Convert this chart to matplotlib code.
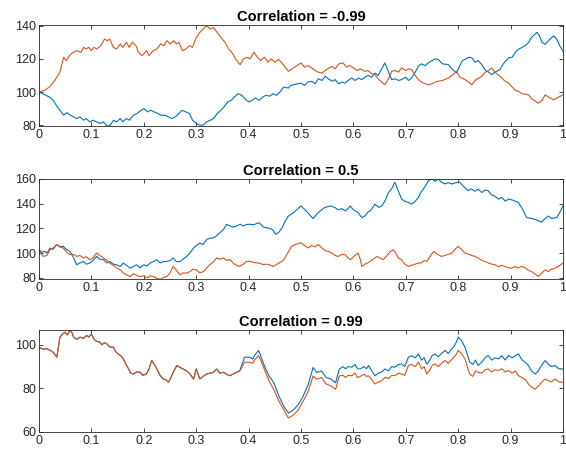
"""Three panels of correlated price paths, MATLAB-style."""

import matplotlib
matplotlib.use("Agg")
import matplotlib.pyplot as plt

BLUE = "#0072BD"
ORANGE = "#D95319"

# ---- panel 1: correlation -0.99 ----
x1_blue = [0, 0.007, 0.013, 0.02, 0.027, 0.033, 0.04, 0.047, 0.053, 0.06, 0.066,
           0.072, 0.078, 0.085, 0.09, 0.097, 0.103, 0.11, 0.117, 0.123, 0.13,
           0.136, 0.142, 0.148, 0.155, 0.16, 0.167, 0.173, 0.18, 0.187, 0.193,
           0.2, 0.207, 0.213, 0.22, 0.227, 0.233, 0.24, 0.247, 0.253, 0.26,
           0.267, 0.273, 0.28, 0.287, 0.293, 0.3, 0.307, 0.313, 0.32, 0.327,
           0.333, 0.34, 0.347, 0.353, 0.36, 0.367, 0.373, 0.38, 0.387, 0.393,
           0.4, 0.407, 0.413, 0.42, 0.427, 0.433, 0.44, 0.447, 0.453, 0.46,
           0.467, 0.476, 0.48, 0.5, 0.507, 0.513, 0.52, 0.527, 0.533, 0.54,
           0.546, 0.552, 0.56, 0.565, 0.572, 0.578, 0.584, 0.59, 0.597, 0.603,
           0.61, 0.616, 0.622, 0.628, 0.635, 0.641, 0.647, 0.654, 0.66, 0.667,
           0.673, 0.68, 0.686, 0.692, 0.7, 0.705, 0.711, 0.718, 0.724, 0.73,
           0.737, 0.743, 0.75, 0.756, 0.762, 0.77, 0.781, 0.788, 0.797, 0.803,
           0.808, 0.813, 0.82, 0.826, 0.832, 0.838, 0.845, 0.852, 0.858, 0.864,
           0.87, 0.88, 0.886, 0.896, 0.903, 0.909, 0.915, 0.922, 0.928, 0.934,
           0.94, 0.95, 0.955, 0.96, 0.966, 0.972, 0.982, 0.988, 0.994, 1.0]
y1_blue = [100, 99, 98, 97, 95, 92, 89, 86, 87.5, 86, 85,
           84, 85, 83, 84, 82, 83, 82, 81, 82, 79.5,
           80, 83, 82, 84, 82, 84, 83, 86, 87, 88.5,
           90, 88, 89, 88, 87, 86, 86, 85, 84, 85,
           87, 89, 88, 87, 83, 81, 80, 80, 82, 83,
           84, 87, 89, 91, 94, 95, 97, 99, 98, 96,
           94, 95, 96.5, 95, 97, 98, 97.5, 99, 98, 100,
           103, 102.4, 104, 105.4, 104, 106, 106.5, 105, 108, 107,
           109.5, 108, 106.5, 107.5, 105, 106, 105.4, 107, 108.5, 107,
           108.5, 107.5, 109, 110, 109, 111.5, 110, 114, 117.6, 112,
           107.5, 108, 107, 107.5, 109, 107, 108.5, 112, 115.6, 117,
           116, 117.6, 119, 120, 119.7, 117, 116.6, 114, 111.5, 116,
           119, 119.7, 121, 120.7, 118, 119, 116.6, 113, 112, 110.5,
           112, 113.6, 117, 120.7, 121, 124, 125.8, 127, 128, 129.8,
           133, 136, 134, 130, 128.8, 131, 133.9, 132, 127.8, 124.8]
x1_orange = [0, 0.01, 0.02, 0.03, 0.04, 0.047, 0.052, 0.058, 0.065, 0.072, 0.08,
             0.085, 0.09, 0.095, 0.1, 0.105, 0.11, 0.118, 0.125, 0.13, 0.135,
             0.142, 0.148, 0.155, 0.16, 0.167, 0.172, 0.178, 0.185, 0.19, 0.196,
             0.2, 0.205, 0.21, 0.218, 0.225, 0.232, 0.238, 0.244, 0.25, 0.257,
             0.262, 0.267, 0.274, 0.28, 0.287, 0.293, 0.3, 0.307, 0.313, 0.32,
             0.327, 0.333, 0.34, 0.347, 0.355, 0.362, 0.37, 0.377, 0.384, 0.39,
             0.397, 0.403, 0.41, 0.417, 0.423, 0.43, 0.437, 0.443, 0.45, 0.457,
             0.465, 0.47, 0.476, 0.5, 0.507, 0.513, 0.52, 0.527, 0.533, 0.54,
             0.546, 0.559, 0.565, 0.572, 0.58, 0.587, 0.593, 0.6, 0.607, 0.613,
             0.622, 0.628, 0.635, 0.641, 0.647, 0.654, 0.66, 0.667, 0.673, 0.68,
             0.686, 0.692, 0.7, 0.705, 0.711, 0.718, 0.724, 0.73, 0.737, 0.743,
             0.75, 0.756, 0.762, 0.77, 0.781, 0.788, 0.797, 0.803, 0.813, 0.82,
             0.826, 0.832, 0.845, 0.852, 0.858, 0.864, 0.87, 0.88, 0.888, 0.896,
             0.903, 0.909, 0.915, 0.922, 0.934, 0.94, 0.953, 0.96, 0.966, 0.972,
             0.982, 0.994, 1.0]
y1_orange = [100, 101, 103, 107, 112, 121, 119, 122, 124, 125, 124,
             127, 126, 127, 125, 127, 126, 128, 132, 131, 132,
             127, 126, 129, 127, 130, 127, 130, 128, 124, 122,
             123, 125, 122, 125, 126, 129, 128, 131, 129, 131,
             129, 130, 125, 126, 128, 127, 133, 136, 138, 140,
             138, 139, 136, 133, 130, 126, 123, 119, 116.5, 120,
             121, 120, 124, 121, 119, 121, 118, 120, 118, 119.7,
             117, 115, 112.5, 117.6, 115, 116, 114.6, 113, 112, 111.5,
             113, 115.6, 114, 117, 117.6, 115, 116, 114.6, 113, 114,
             112.5, 113, 111, 110.5, 108, 106, 104.4, 108, 112.5, 113,
             112, 114.6, 113, 114, 113.6, 110, 107.5, 106, 105, 104.4,
             105, 106, 106.5, 107, 108.5, 110, 112.5, 109, 107.5, 106,
             104.4, 107, 109.5, 112, 113, 114.6, 112, 109.5, 107, 105.4,
             103, 101, 100.4, 99, 98.3, 96, 93.3, 95, 98.3, 97,
             95.3, 97.3, 98.3]

# ---- panel 2: correlation 0.5 ----
x2_blue = [0, 0.005, 0.01, 0.015, 0.021, 0.027, 0.034, 0.04, 0.046, 0.052,
           0.059, 0.065, 0.072, 0.078, 0.085, 0.09, 0.097, 0.103, 0.11, 0.116,
           0.123, 0.13, 0.135, 0.142, 0.148, 0.155, 0.161, 0.167, 0.174, 0.18,
           0.186, 0.193, 0.2, 0.206, 0.212, 0.218, 0.225, 0.231, 0.237, 0.244,
           0.25, 0.256, 0.262, 0.269, 0.275, 0.282, 0.288, 0.295, 0.3, 0.307,
           0.313, 0.32, 0.326, 0.333, 0.339, 0.345, 0.352, 0.358, 0.365, 0.37,
           0.377, 0.384, 0.39, 0.396, 0.402, 0.41, 0.42, 0.428, 0.434, 0.445,
           0.452, 0.458, 0.464, 0.47, 0.476, 0.486, 0.5, 0.51, 0.523, 0.533,
           0.545, 0.557, 0.565, 0.571, 0.578, 0.584, 0.59, 0.594, 0.6, 0.609,
           0.616, 0.622, 0.627, 0.632, 0.637, 0.641, 0.648, 0.654, 0.66, 0.667,
           0.673, 0.679, 0.686, 0.692, 0.698, 0.705, 0.711, 0.718, 0.724, 0.73,
           0.737, 0.743, 0.75, 0.756, 0.762, 0.768, 0.775, 0.781, 0.788, 0.795,
           0.803, 0.81, 0.819, 0.825, 0.832, 0.838, 0.845, 0.851, 0.857, 0.864,
           0.87, 0.877, 0.883, 0.89, 0.896, 0.903, 0.909, 0.915, 0.922, 0.931,
           0.94, 0.947, 0.953, 0.959, 0.966, 0.972, 0.978, 0.988, 0.994, 1.0]
y2_blue = [102.8, 100.5, 101.5, 100, 104, 103, 106.9, 105, 105.5, 103,
           101.4, 97, 90.5, 92, 93.2, 91, 91.9, 94, 97.3, 95,
           94.6, 92, 93.2, 91, 90.5, 89, 91.9, 90, 87.8, 89,
           90.5, 88, 90.5, 89.5, 91.9, 93, 94.6, 92, 93, 93.2,
           94, 96, 93, 93.2, 95, 97.3, 100, 104.1, 106, 108.2,
           107, 110.9, 112, 112.3, 114, 116.4, 119, 123.2, 121.9, 121,
           121.9, 123.3, 122, 123.2, 123.3, 123, 124.6, 121, 120.6, 119.2,
           115.1, 117, 120.6, 126, 130, 132.8, 138.2, 134, 127.9, 132.8,
           136.9, 138.2, 136.8, 135, 136, 134.1, 136, 138.2, 135, 132.8,
           128.7, 130, 133, 134.1, 137, 139.6, 137, 138.2, 142, 149.1,
           152, 157.3, 150, 143.7, 142, 141, 139.6, 142, 145, 150,
           154, 158.6, 160, 158, 160, 157.3, 156, 157, 155.9, 157,
           157.3, 154, 150.5, 152, 150, 151.8, 149, 151, 150.5, 147,
           146, 143.7, 145, 142, 143.7, 143, 142, 140.9, 136, 128.7,
           128, 127.3, 126, 125.1, 128, 130, 128, 128.7, 133, 138.2]
x2_orange = [0, 0.005, 0.008, 0.015, 0.021, 0.027, 0.034, 0.04, 0.046, 0.052,
             0.059, 0.065, 0.072, 0.078, 0.085, 0.09, 0.097, 0.103, 0.11, 0.116,
             0.123, 0.13, 0.135, 0.142, 0.148, 0.155, 0.161, 0.167, 0.174, 0.18,
             0.186, 0.193, 0.2, 0.206, 0.212, 0.218, 0.225, 0.231, 0.237, 0.244,
             0.25, 0.256, 0.262, 0.269, 0.275, 0.282, 0.288, 0.294, 0.3, 0.307,
             0.314, 0.32, 0.326, 0.333, 0.339, 0.345, 0.352, 0.358, 0.365, 0.37,
             0.377, 0.383, 0.39, 0.396, 0.403, 0.414, 0.42, 0.428, 0.434, 0.44,
             0.447, 0.458, 0.466, 0.473, 0.482, 0.49, 0.5, 0.507, 0.514, 0.52,
             0.527, 0.533, 0.54, 0.546, 0.552, 0.559, 0.565, 0.571, 0.578, 0.584,
             0.59, 0.594, 0.6, 0.609, 0.613, 0.616, 0.622, 0.627, 0.632, 0.638,
             0.645, 0.651, 0.657, 0.664, 0.67, 0.676, 0.682, 0.686, 0.692, 0.698,
             0.705, 0.711, 0.718, 0.724, 0.73, 0.735, 0.74, 0.746, 0.753, 0.76,
             0.768, 0.775, 0.781, 0.788, 0.794, 0.8, 0.806, 0.813, 0.82, 0.826,
             0.832, 0.838, 0.845, 0.851, 0.857, 0.864, 0.87, 0.877, 0.883, 0.889,
             0.896, 0.902, 0.909, 0.915, 0.921, 0.928, 0.934, 0.94, 0.947, 0.953,
             0.96, 0.966, 0.972, 0.978, 0.985, 0.99, 1.0]
y2_orange = [101.4, 99, 97.3, 98, 102.8, 104, 106.9, 105, 104.1, 101,
             98.7, 99, 97.3, 98, 96, 97, 94.6, 96, 100, 98,
             96, 94, 91.9, 90, 88, 86.4, 84, 82.3, 81, 83.2,
             82, 81, 81.5, 80, 81.5, 81, 79.5, 78.8, 80, 81,
             84, 89.2, 86, 82.3, 84, 83.7, 85, 87, 86.4, 84,
             85, 88, 90.5, 93, 96, 95, 96, 94, 94.7, 92,
             90, 89.2, 91, 93.3, 93.2, 92, 91.9, 90.6, 91, 90.5,
             89, 92, 94, 98.8, 105.6, 107, 108.3, 106, 104.1, 106,
             105, 106.9, 104, 102, 101.4, 100, 98, 97.3, 99, 98.7,
             96, 94.6, 97, 100, 95, 89.2, 91, 92, 93.2, 95,
             97.3, 96, 94.6, 98, 101, 102.8, 99, 96, 94.6, 91,
             89.2, 90, 91, 91.9, 92, 94, 93.2, 97, 101.4, 99,
             97.3, 98, 99, 100, 103, 105.5, 103, 100, 99, 98,
             97.3, 96, 94, 93.2, 92, 91, 90.5, 89, 90, 89.2,
             88, 87.8, 89, 88, 89.2, 88, 86, 85, 83, 81,
             84, 86.4, 85, 87, 87.8, 89, 91.9]

# ---- panel 3: correlation 0.99 (both series share the time grid) ----
x3 = [0, 0.007, 0.015, 0.021, 0.027, 0.034, 0.037, 0.04, 0.045, 0.05,
      0.054, 0.059, 0.063, 0.066, 0.072, 0.078, 0.085, 0.091, 0.095, 0.1,
      0.104, 0.107, 0.111, 0.116, 0.12, 0.125, 0.129, 0.135, 0.142, 0.146,
      0.151, 0.156, 0.161, 0.166, 0.171, 0.175, 0.18, 0.186, 0.193, 0.198,
      0.205, 0.21, 0.215, 0.22, 0.225, 0.231, 0.237, 0.242, 0.247, 0.252,
      0.256, 0.263, 0.27, 0.275, 0.282, 0.288, 0.295, 0.3, 0.307, 0.313,
      0.32, 0.327, 0.333, 0.339, 0.345, 0.352, 0.358, 0.364, 0.37, 0.377,
      0.383,
      0.389, 0.392, 0.402, 0.408, 0.411, 0.419, 0.423, 0.43, 0.439, 0.448,
      0.458, 0.467, 0.476, 0.486, 0.495, 0.504, 0.514, 0.523, 0.53, 0.539,
      0.548, 0.557, 0.566, 0.573, 0.58, 0.585, 0.59, 0.597, 0.603, 0.608,
      0.613, 0.62, 0.625, 0.629, 0.635, 0.641, 0.648, 0.654, 0.66, 0.667,
      0.673, 0.679, 0.686, 0.692, 0.698, 0.705, 0.711, 0.718, 0.724, 0.73,
      0.735, 0.74, 0.746, 0.75, 0.756, 0.762, 0.768, 0.775, 0.781, 0.787,
      0.791, 0.796, 0.8, 0.806, 0.813, 0.818, 0.822, 0.828, 0.833, 0.838,
      0.845, 0.851, 0.857, 0.864, 0.87, 0.877, 0.883, 0.89, 0.896, 0.903,
      0.909, 0.915, 0.922, 0.928, 0.934, 0.94, 0.947, 0.953, 0.96, 0.966,
      0.972, 0.978, 0.985, 0.992, 1.0]
# values where the two paths overlap (x up to 0.383)
y3_common = [98.9, 98, 98.2, 97.5, 96.6, 94.3, 99, 103.5, 105, 105.8,
             104.5, 106.6, 105.5, 103.5, 102.5, 103.5, 103, 104.3, 103.5, 105,
             103, 102, 101.5, 101.2, 100, 101, 100.5, 99, 98.9, 97,
             95.8, 95, 93.5, 91, 88.9, 87, 86.6, 87.5, 87.4, 86,
             86.6, 89, 92.8, 91, 88.9, 86, 84.3, 84, 82.8, 85,
             87.4, 90.5, 89.5, 88.9, 88, 86.6, 84.3, 88.9, 84.3, 85.5,
             86.6, 87, 87.4, 88.9, 87, 87.4, 86.5, 85.8, 86.5, 87.4,
             88]
y3_blue_tail = [92, 94.3, 94.3, 93.5, 95, 97.4, 95, 90.4, 85.7, 82.6,
                76.4, 71.8, 68.7, 70.2, 72.6, 76.4, 81.9, 89.6, 87.3, 88,
                85, 84.3, 82.6, 88.8, 90, 89, 90, 89.7, 91, 89,
                88.9, 90, 89, 90.5, 88, 85.8, 87, 87.5, 88.9, 88,
                90, 89.7, 91, 91.2, 90, 94.3, 95, 94, 95.8, 93,
                94, 91.2, 93, 95, 95.8, 94.5, 96, 97.4, 96, 98,
                98.9, 101, 103.5, 102, 98.9, 95, 92, 91, 93, 90.5,
                92, 94, 95.1, 93, 94, 93.5, 95, 93, 95.1, 94,
                95, 95.8, 93, 92, 90.5, 88, 86.6, 88, 91, 92.8,
                91, 90, 90.5, 89, 88.9]
y3_orange_tail = [90.4, 92, 92, 91.5, 93, 95, 93, 88.8, 83.4, 79.5,
                  74.1, 70.2, 66.4, 67.9, 70.2, 74.1, 78.7, 85.7, 84.2, 85,
                  82, 81.2, 79.5, 85.7, 86, 85, 86, 85.8, 87, 85,
                  85.5, 86.5, 85.5, 85.8, 84, 82, 83, 83.5, 85.1, 84.5,
                  86, 85.8, 87, 86.6, 86, 90.5, 91, 90, 92, 89,
                  90, 86.6, 88.5, 90.5, 91.2, 90, 91.5, 92.8, 91.5, 93,
                  94.3, 95.5, 97.4, 96, 93.5, 89.5, 86.6, 85.5, 88, 87.4,
                  87, 88.5, 88.9, 87.5, 88.5, 88.2, 89, 87.5, 88.2, 87,
                  88, 85.8, 85, 84, 82, 80.5, 79.7, 81, 83, 84.3,
                  83.5, 83, 84.3, 83, 82.8]
y3_blue = y3_common + y3_blue_tail
y3_orange = y3_common + y3_orange_tail

titles = ["Correlation = -0.99", "Correlation = 0.5", "Correlation = 0.99"]
ylims = [(79.5, 140.5), (79, 160), (60, 106.8)]
yticks = [[80, 100, 120, 140], [80, 100, 120, 140, 160], [60, 80, 100]]
xticks = [0, 0.1, 0.2, 0.3, 0.4, 0.5, 0.6, 0.7, 0.8, 0.9, 1]
xticklabels = ["0", "0.1", "0.2", "0.3", "0.4", "0.5", "0.6", "0.7", "0.8", "0.9", "1"]

series = [
    (x1_blue, y1_blue, x1_orange, y1_orange),
    (x2_blue, y2_blue, x2_orange, y2_orange),
    (x3, y3_blue, x3, y3_orange),
]

# axes boxes in figure fractions (left, bottom, width, height)
boxes = [
    (0.0689, 0.7225, 0.9258, 0.2225),
    (0.0689, 0.3855, 0.9258, 0.2203),
    (0.0689, 0.0485, 0.9258, 0.2247),
]

plt.rcParams["font.family"] = ["Liberation Sans", "DejaVu Sans"]
INK = "#262626"

fig = plt.figure(figsize=(5.66, 4.54), dpi=100)

for box, (xb, yb, xo, yo), title, ylim, yt in zip(boxes, series, titles, ylims, yticks):
    ax = fig.add_axes(box)
    ax.plot(xb, yb, color=BLUE, linewidth=0.8)
    ax.plot(xo, yo, color=ORANGE, linewidth=0.8)
    ax.set_xlim(0, 1)
    ax.set_ylim(*ylim)
    ax.set_xticks(xticks)
    ax.set_xticklabels(xticklabels)
    ax.set_yticks(yt)
    ax.tick_params(direction="in", length=3, width=0.6, colors=INK,
                   labelsize=9, top=True, right=True, pad=2)
    for spine in ax.spines.values():
        spine.set_color(INK)
        spine.set_linewidth(0.6)
    ax.set_title(title, fontsize=10.5, fontweight="bold", color="black", pad=3)

fig.savefig("out.png", dpi=100)
